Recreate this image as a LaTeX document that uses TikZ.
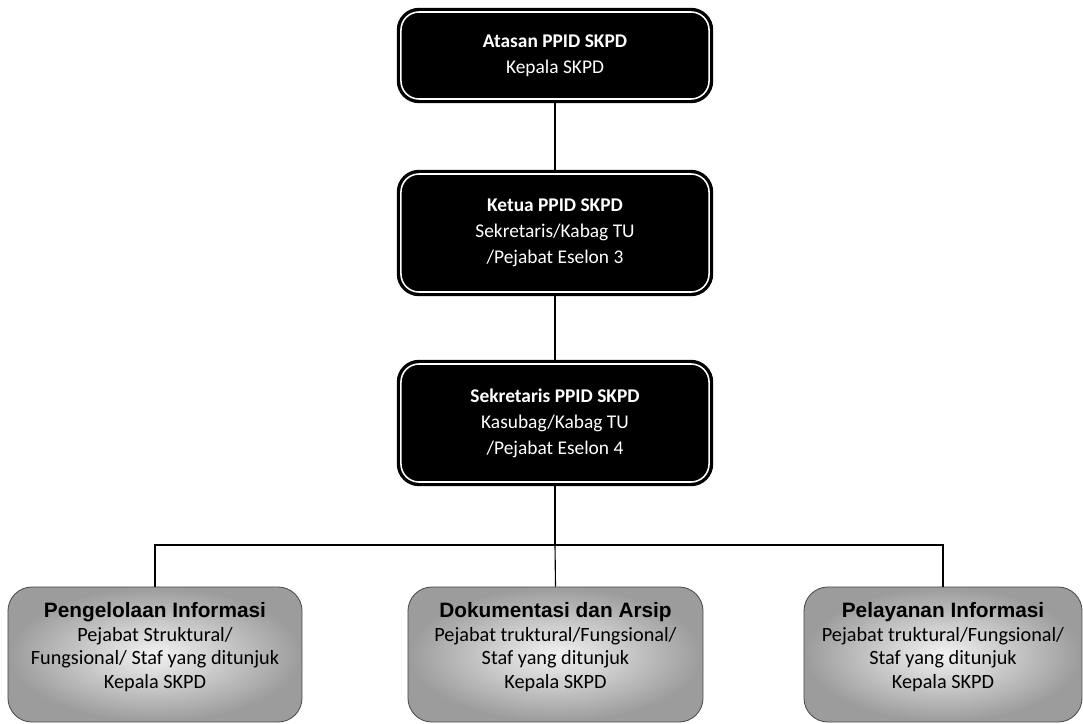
\documentclass[tikz,border=0pt]{standalone}
\usepackage{fontspec}
\setmainfont{Carlito}
\newfontfamily\kopfschrift{Liberation Sans}
\newcommand{\titel}[1]{\textbf{\kopfschrift\fontsize{14.8}{16.8}\selectfont #1}}
\tikzset{
  leitung/.style={draw=black, double=white, double distance=1.1pt, line width=2.4pt,
    fill=black, rounded corners=0.45cm, text=white, align=center,
    minimum width=7.7cm, font=\fontsize{13.8}{18.4}\selectfont},
  bereich/.style={draw=gray!60!black, line width=0.6pt, rounded corners=0.6cm,
    inner color=gray!10, outer color=gray!78, minimum height=3.375cm},
  bereichtext/.style={align=center, font=\fontsize{14.4}{16.9}\selectfont},
  linie/.style={draw=black, line width=0.8pt}
}
\begin{document}
\begin{tikzpicture}[x=0.025cm, y=-0.025cm]
        \useasboundingbox (0,0) rectangle (1083,723);
        % Leitung
        \node [leitung, minimum height=2.175cm] (atasan) at (555, 55.5)
          {\textbf{Atasan PPID SKPD}\\Kepala SKPD};
        \node [leitung, minimum height=2.95cm] (ketua) at (555, 233)
          {\textbf{Ketua PPID SKPD}\\Sekretaris/Kabag TU\\/Pejabat Eselon 3};
        \node [leitung, minimum height=2.95cm] (sekretaris) at (555, 423)
          {\textbf{Sekretaris PPID SKPD}\\Kasubag/Kabag TU\\/Pejabat Eselon 4};
        % Bereiche
        \node [bereich, minimum width=7.35cm] (pengelolaan) at (155, 654.5) {};
        \node [bereich, minimum width=7.375cm] (dokumentasi) at (555.5, 654.5) {};
        \node [bereich, minimum width=6.95cm] (pelayanan) at (943, 654.5) {};
        \node [bereichtext] (pengelolaan-text) at (155, 647)
          {\titel{Pengelolaan Informasi}\\Pejabat Struktural/\\Fungsional/ Staf yang ditunjuk\\Kepala SKPD};
        \node [bereichtext] (dokumentasi-text) at (555.5, 647)
          {\titel{Dokumentasi dan Arsip}\\Pejabat truktural/Fungsional/\\Staf yang ditunjuk\\Kepala SKPD};
        \node [bereichtext] (pelayanan-text) at (943, 647)
          {\titel{Pelayanan Informasi}\\Pejabat truktural/Fungsional/\\Staf yang ditunjuk\\Kepala SKPD};
        % Linien
        \coordinate (gabel) at (555, 545);
        \draw [linie] (atasan.south) -- (ketua.north);
        \draw [linie] (ketua.south) -- (sekretaris.north);
        \draw [linie] (sekretaris.south) -- (gabel);
        \draw [linie] (pengelolaan.north) |- (gabel);
        \draw [linie] (pelayanan.north) |- (gabel);
        \draw [linie] (dokumentasi.north) -- (gabel);
    \end{tikzpicture}
\end{document}
